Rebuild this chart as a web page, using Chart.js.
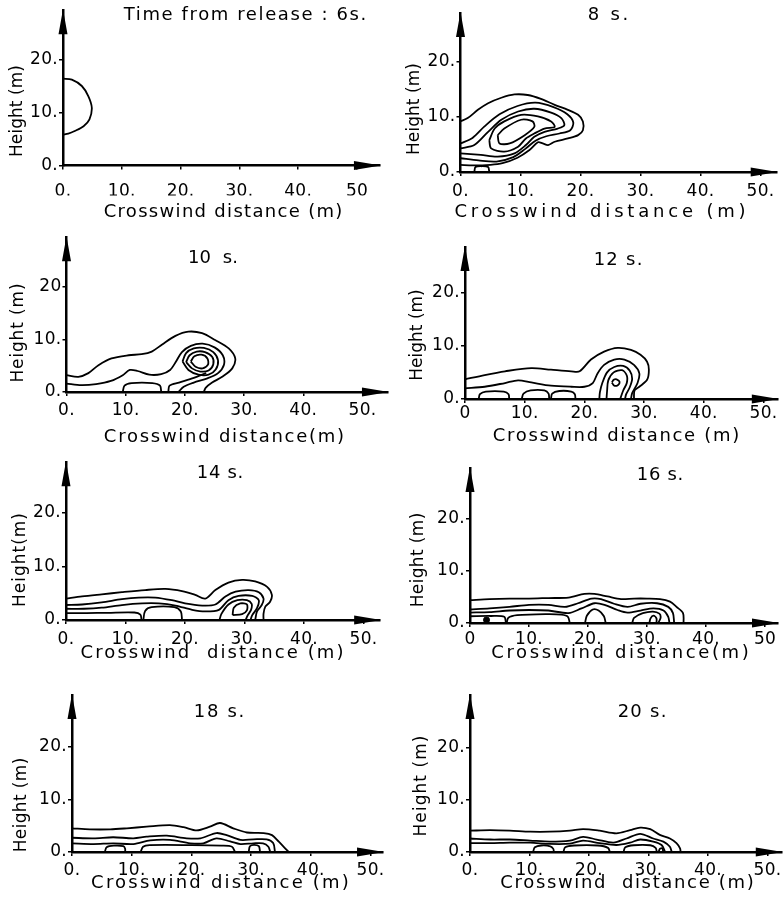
<!DOCTYPE html>
<html>
<head>
<meta charset="utf-8">
<script src="https://cdn.jsdelivr.net/npm/chart.js@4.4.1/dist/chart.umd.min.js"></script>
<style>
  body { margin: 0; background: #fff; width: 783px; height: 903px; position: relative; overflow: hidden; }
  canvas { position: absolute; }
</style>
</head>
<body>
<script>
// ---- text ----
const titles  = ['Time from release : 6s.', '8 s.', '10  s.', '12 s.', '14 s.', '16 s.', '18 s.', '20 s.'];
const xTitles = ['Crosswind distance (m)', 'Crosswind distance (m)', 'Crosswind distance(m)', 'Crosswind distance (m)',
                 'Crosswind  distance (m)', 'Crosswind distance(m)', 'Crosswind distance (m)', 'Crosswind  distance (m)'];
const yTitles = ['Height (m)', 'Height (m)', 'Height (m)', 'Height (m)', 'Height(m)', 'Height (m)', 'Height (m)', 'Height (m)'];

// tick labels, one per 10 m
const xTicks_6  = ['0.', '10.', '20.', '30.', '40.', '50'];
const xTicks_8  = ['0.', '10.', '20.', '30.', '40.', '50.'];
const xTicks_10 = ['0.', '10.', '20.', '30.', '40.', '50.'];
const xTicks_12 = ['0', '10.', '20.', '30.', '40.', '50.'];
const xTicks_14 = ['0.', '10.', '20.', '30.', '40.', '50.'];
const xTicks_16 = ['0', '10.', '20.', '30.', '40.', '50'];
const xTicks_18 = ['0.', '10.', '20.', '30.', '40.', '50.'];
const xTicks_20 = ['0.', '10.', '20.', '30.', '40.', '50.'];
const yTicks_6  = ['0.', '10.', '20.'];
const yTicks    = ['0.', '10.', '20.'];
const yTicks_10 = ['0.', '10.', '20'];

// ---- contours, [crosswind m, height m] ----
// 6 s
const s6_1 = [[0,16.4],[1.5,16.2],[3.2,15],[4.3,13.1],[4.9,10.9],[4.5,8.7],[3.5,7.4],[2,6.5],[0.9,6],[0,5.8]];

// 8 s
const s8_1 = [[0,9.2],[1.2,9.8],[2.9,11.3],[4.6,12.5],[6.8,13.5],[9,14.1],[11.2,14],[13.4,13.3],[15.7,12.2],[17.9,11.3],
              [19.6,10.4],[20.4,9.2],[20.4,7.6],[19.6,6.7],[17.9,6.1],[15.7,5.5],[14.6,4.9],[13.7,5.2],[12.9,5.4],
              [11.5,4],[9.5,2.6],[7,1.6],[5,1.3],[2,1.2],[0,1.3]];
const s8_2 = [[0,5.2],[2,6.2],[4,8.3],[6.5,10.5],[9.5,12],[12.5,12.6],[15.5,11.8],[17.8,10.5],[18.8,9],[18.3,7.6],
              [16.5,7],[14.3,6.5],[12.5,5.7],[10.8,4.2],[8.8,2.7],[6,1.9],[3,2.1],[0,2.5]];
const s8_3 = [[0,4.3],[2.3,4.9],[4.6,7.3],[6.8,9.5],[9.6,11],[12.3,11.5],[15.1,10.8],[16.8,9.8],[17.3,8.5],[16.2,7.9],
              [14,7.3],[12.3,6.4],[10.9,4.9],[9,3.4],[6.2,2.8],[3.4,3.1],[0,3.4]];
const s8_4 = [[4.8,5.8],[5.7,7.9],[7.3,9.2],[10.1,10.4],[12.9,10.1],[15.1,9.2],[15.7,8.2],[14,7.9],[12.3,7],[10.9,6.1],
              [9.6,4.6],[7.3,3.7],[5.1,4.3],[4.8,5.8]];
const s8_5 = [[6.2,6.7],[7.3,7.9],[10.1,9.5],[12,9.2],[12.3,8.2],[10.7,6.7],[8.2,5.2],[6.5,5.2],[6.2,6.7]];
const s8_6 = [[2.3,0],[2.5,0.9],[3.5,1.05],[4.6,0.9],[4.8,0]];

// 10 s
const s10_1 = [[0,3.2],[2,2.9],[3.7,3.6],[5.4,5.1],[7.6,6.4],[10.5,7],[12.7,7.2],[14.4,7.7],[16.1,9],[18.4,10.7],[20.6,11.5],
               [22.9,11.2],[25.1,9.9],[27.4,8.3],[28.5,6.4],[28,4.5],[26.3,2.9],[24.6,1.8],[23.5,0.8],[23.2,0]];
const s10_2 = [[0,1.6],[2.5,1.3],[5,1.5],[7.5,2.1],[9.5,3.2],[10.7,4.2],[12,4],[14,3.3],[16,3.4],[17.5,4.2],[18.5,5.8],
               [19.5,7.6],[21,8.8],[23,9.2],[25,8.5],[26.4,7],[26.6,5.2],[25.6,3.6],[23.8,2.6],[21.5,1.8],[19.8,1],[18.9,0]];
const s10_3 = [[19.6,5.8],[20.2,7.4],[21.5,8.3],[23.2,8.4],[24.8,7.6],[25.6,6],[25.2,4.3],[24,3.3],[22.3,3.3],[20.6,4.2],[19.6,5.8]];
const s10_4 = [[20.2,5.7],[20.8,7],[22,7.7],[23.4,7.6],[24.6,6.7],[24.8,5.3],[24,4.1],[22.6,3.9],[21.2,4.5],[20.2,5.7]];
const s10_5 = [[21,5.8],[21.6,6.8],[22.8,7.1],[23.8,6.4],[23.9,5.2],[23,4.5],[21.8,4.8],[21,5.8]];
const s10_6 = [[17.2,0],[17.4,1.2],[19,1.8],[21.5,2.7],[23.6,3.6]];
const s10_7 = [[9.5,0],[9.8,1.2],[11,1.7],[14.5,1.7],[15.8,1.2],[16,0]];

// 12 s
const s12_1 = [[0,3.7],[3.3,4.5],[6.7,5.2],[11.1,5.8],[14.4,5.5],[17.8,5.2],[19.2,5.2],[21.1,7.4],[23.3,8.9],[25.6,9.6],
               [27.8,9.2],[29.4,8.3],[30.5,7],[30.8,5.5],[30.5,3.6],[29.2,2.3],[28.4,1.6],[28.3,0]];
const s12_2 = [[0,2],[3.3,2.3],[6.7,3],[8.9,3.5],[11.1,3.1],[14.4,2.5],[17.8,2.3],[20,2.3],[21.4,3],[22.2,4.8],[23.3,6.4],
               [25,7.4],[26.7,7.4],[28.3,6.4],[29.2,4.8],[28.9,3],[28,1.1],[27.8,0]];
const s12_3 = [[22.5,0],[22.6,1.3],[23,3],[23.8,5],[25,6],[26.5,6.2],[27.6,5.3],[28,3.8],[27.6,2.2],[27,0.9],[26.8,0]];
const s12_4 = [[23.7,0],[23.8,1.5],[24,3.5],[24.9,5],[26.3,5.4],[27.1,4.4],[27.1,3],[26.5,1.6],[26,0]];
const s12_5 = [[24.6,3.1],[24.9,3.6],[25.4,3.7],[25.9,3.2],[25.6,2.6],[25,2.5],[24.6,3.1]];
const s12_6 = [[2.3,0],[2.5,0.9],[3.5,1.4],[6.5,1.4],[7.3,0.9],[7.4,0]];
const s12_7 = [[9.5,0],[9.8,1],[11,1.6],[13.3,1.6],[14,1],[14.1,0]];
const s12_8 = [[14.4,0],[14.6,1],[15.8,1.5],[17.8,1.4],[18.4,0.9],[18.5,0]];

// 14 s
const s14_1 = [[0,4],[2.7,4.4],[6,4.8],[9.4,5.2],[13.3,5.6],[16.7,5.8],[19.5,5.4],[21.7,4.7],[23.4,4],[25.1,5.6],[27.3,7],
               [29.6,7.5],[31.8,7.2],[33.8,6.2],[34.6,4.7],[34.3,3.4],[33.5,2.5],[33.2,1.2],[33.2,0]];
const s14_2 = [[0,2.8],[2.7,2.9],[6,3.3],[9.4,3.9],[12.2,4.2],[15,4.2],[17.8,3.7],[20,3.1],[22.9,2.7],[25.1,2.9],[26.8,4.4],
               [28.5,5.3],[30.7,5.6],[32.4,5.2],[33.2,4],[32.9,2.8],[32.1,1.6],[31.8,0]];
const s14_3 = [[0,2.1],[3,2.1],[6,2.3],[9.4,2.8],[12.8,3.1],[15.6,3.1],[18.4,2.7],[21.2,1.9],[23.4,1.6],[25.7,1.9],[27.3,3.7],
               [29,4.5],[31.3,4.5],[32.4,3.7],[32.1,2.2],[31.3,0.9],[31,0]];
const s14_4 = [[0,1.3],[3.5,1.3],[7,1.35],[11.5,1.4],[12.5,1],[12.7,0]];
const s14_5 = [[13,0],[13.3,1.7],[14.4,2.4],[18.2,2.4],[19.3,1.6],[19.5,0]];
const s14_6 = [[25.8,0],[26.1,1.1],[27.3,2.9],[28.8,3.7],[30.4,3.7],[31.2,3],[31.1,1.9],[30.5,0.8],[30.2,0]];
const s14_7 = [[28,0.9],[28.2,2.3],[29.3,3.1],[30.4,2.9],[30.4,1.8],[29.6,1.1],[28,0.9]];

// 16 s
const s16_1 = [[0,4.4],[3.3,4.6],[6.7,4.7],[10,4.7],[13.3,4.8],[16.7,4.9],[19.4,5.6],[21.1,5.6],[23.3,5.1],[25.6,4.6],
               [27.8,4.7],[30,4.7],[32.2,4.6],[33.9,4.1],[35,3.1],[36.1,1.9],[36.2,0]];
const s16_2 = [[0,2.6],[3.3,2.8],[6.7,3.1],[10,3.5],[13.3,3.5],[16.1,3.1],[18.3,3.8],[20.6,4.7],[22.2,4.6],[24.4,3.7],
               [26.7,3.1],[28.9,3.7],[31.7,3.8],[33.6,3.1],[34.4,1.9],[34.6,0]];
const s16_3 = [[0,2],[3.3,2.1],[6.7,2.4],[10,2.5],[13.3,2.4],[16.7,1.9],[18.9,2.8],[21.1,3.8],[22.8,3.5],[25,2.5],
               [26.7,2],[28.9,2.4],[31.1,2.8],[32.8,2.4],[33.6,1.2],[33.8,0]];
const s16_4 = [[0,1.3],[3.5,1.35],[5.8,1.2],[6.1,0]];
const s16_5 = [[6.2,0],[6.5,1],[8,1.5],[13,1.7],[15.5,1.6],[16.6,1.2],[16.9,0]];
const s16_6 = [[19.5,0],[19.8,1.4],[20.8,2.6],[21.8,2.4],[22.7,1.3],[23,0]];
const s16_7 = [[27.5,0],[27.8,1],[29.3,1.9],[31,2.2],[32.1,1.8],[32.3,1],[31.9,0]];
const s16_8 = [[30.4,0],[30.6,0.9],[31.1,1.4],[31.6,0.9],[31.6,0]];
const s16_dot = [[2.8,0.6]];

// 18 s
const s18_1 = [[0,4.5],[3,4.3],[6.4,4.3],[9.2,4.5],[12.5,4.8],[16.4,5.1],[18.7,4.7],[20.9,4.1],[23.1,4.8],[24.8,5.5],[27,4.5],
               [29.3,3.7],[32.1,3.6],[33.5,3.2],[34.6,2],[35.7,0.7],[36.3,0]];
const s18_2 = [[0,2.7],[3.6,2.6],[6.9,2.8],[10.3,2.6],[12.5,2.9],[15.9,3.1],[19.2,2.6],[21.5,2.6],[24.2,3.6],[25.9,3.2],
               [28.2,2.3],[30.4,2.4],[32.6,2.4],[33.7,1.7],[34,0]];
const s18_3 = [[0,1.65],[3.6,1.5],[6.9,1.65],[10.3,1.5],[13.1,2.2],[16.4,2.3],[19.8,1.65],[22,1.65],[24.2,2.6],[26.5,2],
               [28.2,1.5],[30.4,1.65],[32,1.65],[32.9,1],[33.2,0]];
const s18_4 = [[5.5,0],[5.8,0.9],[7,1.2],[8.6,1.1],[8.9,0.6],[8.9,0]];
const s18_5 = [[11.5,0],[11.9,1],[13,1.3],[20,1.3],[25,1.2],[26.8,1],[27.3,0]];
const s18_6 = [[29.6,0],[29.8,1.1],[30.5,1.35],[31.3,1.1],[31.5,0]];

// 20 s
const s20_1 = [[0,4.1],[3.4,4.2],[6.7,4.1],[10.1,3.9],[13.4,3.9],[16.8,4.1],[19,4.4],[21.8,4.1],[24.6,3.6],[26.9,4.2],
               [28.6,4.7],[30.3,4.4],[31.9,3.3],[33.6,2.6],[34.7,1.7],[35.3,0.7],[35.4,0]];
const s20_2 = [[0,2.6],[3.4,2.4],[6.7,2.4],[10.1,2.2],[13.4,2],[16.8,2.2],[19,2.9],[21.3,2.4],[24.1,1.8],[26.3,2.6],
               [28.6,3.5],[30.8,2.6],[32.5,2],[33.6,1],[33.9,0]];
const s20_3 = [[0,1.7],[3.4,1.7],[6.7,1.8],[10.1,1.8],[13.4,1.55],[16.8,1.6],[19,2.2],[21.8,1.7],[24.6,1.35],[26.9,1.8],
               [28.6,2.4],[30.8,2],[32.2,1.35],[32.8,0]];
const s20_4 = [[10.6,0],[10.9,0.9],[12,1.25],[13.5,1.1],[14,0.6],[14.1,0]];
const s20_5 = [[15.7,0],[16,0.9],[17.5,1.25],[21.5,1.25],[23.2,0.8],[23.5,0]];
const s20_6 = [[25.8,0],[26.1,0.9],[27.5,1.3],[30.3,1.3],[31.2,0.8],[31.4,0]];
const s20_7 = [[31.7,0],[31.9,0.6],[32.3,0.7],[32.5,0]];

const panels = [
  { lines: [s6_1], dots: [], xTicks: xTicks_6, yTicks: yTicks_6 },
  { lines: [s8_1, s8_2, s8_3, s8_4, s8_5, s8_6], dots: [], xTicks: xTicks_8, yTicks: yTicks },
  { lines: [s10_1, s10_2, s10_3, s10_4, s10_5, s10_6, s10_7], dots: [], xTicks: xTicks_10, yTicks: yTicks_10 },
  { lines: [s12_1, s12_2, s12_3, s12_4, s12_5, s12_6, s12_7, s12_8], dots: [], xTicks: xTicks_12, yTicks: yTicks },
  { lines: [s14_1, s14_2, s14_3, s14_4, s14_5, s14_6, s14_7], dots: [], xTicks: xTicks_14, yTicks: yTicks },
  { lines: [s16_1, s16_2, s16_3, s16_4, s16_5, s16_6, s16_7, s16_8], dots: s16_dot, xTicks: xTicks_16, yTicks: yTicks },
  { lines: [s18_1, s18_2, s18_3, s18_4, s18_5, s18_6], dots: [], xTicks: xTicks_18, yTicks: yTicks },
  { lines: [s20_1, s20_2, s20_3, s20_4, s20_5, s20_6, s20_7], dots: [], xTicks: xTicks_20, yTicks: yTicks },
];

// ---- page layout (pixels): cell, axis origin, px per metre, axis extent, text boxes [cx, cy, width] ----
const frames = [
  { cell: [0, 0, 391, 240],     x0: 63,    y0: 165.5, sx: 5.88, sy: 5.3,  xmax: 53.9, ymax: 29.3, pad: 12,
    title: [245, 15, 244],  xt: [223, 212, 240], yt: [18, 111, 92] },
  { cell: [391, 0, 392, 240],   x0: 460.5, y0: 172,   sx: 6.0,  sy: 5.5,  xmax: 52.7, ymax: 28.9, pad: 5,
    title: [608, 15, 43],   xt: [600, 212, 295], yt: [415, 109, 92] },
  { cell: [0, 222, 391, 240],   x0: 66.5,  y0: 392,   sx: 5.92, sy: 5.25, xmax: 54.3, ymax: 29.5, pad: 4,
    title: [213, 258, 50],  xt: [224, 437, 242], yt: [19, 333, 100] },
  { cell: [391, 222, 392, 240], x0: 465,   y0: 399,   sx: 5.97, sy: 5.33, xmax: 52.4, ymax: 28.5, pad: 0,
    title: [618, 260, 50],  xt: [616, 436, 248], yt: [418, 335, 90] },
  { cell: [0, 447, 391, 240],   x0: 66,    y0: 620,   sx: 5.95, sy: 5.35, xmax: 52.8, ymax: 29.5, pad: 5,
    title: [220, 473, 47],  xt: [212, 653, 265], yt: [21, 560, 95] },
  { cell: [391, 447, 392, 240], x0: 470,   y0: 623,   sx: 5.98, sy: 5.2,  xmax: 52.2, ymax: 29.8, pad: 2,
    title: [660, 475, 47],  xt: [620, 653, 260], yt: [419, 560, 95] },
  { cell: [0, 672, 391, 231],   x0: 72,    y0: 852,   sx: 5.97, sy: 5.27, xmax: 52.1, ymax: 29.8, pad: 4,
    title: [219, 712, 52],  xt: [220, 883, 260], yt: [22, 805, 95] },
  { cell: [391, 672, 392, 231], x0: 470,   y0: 852,   sx: 5.95, sy: 5.2,  xmax: 52.4, ymax: 30.2, pad: 4,
    title: [642, 712, 50],  xt: [627, 883, 255], yt: [422, 786, 102] },
];

const YAXIS_W = 40, XAXIS_H = 30;
Chart.defaults.font.family = '"DejaVu Sans", sans-serif';
Chart.defaults.color = '#000';

// text stretched to the width it has in the picture
function putText(ctx, text, box, size, rotated, ox, oy) {
  ctx.font = size + 'px "DejaVu Sans"';
  ctx.letterSpacing = '0px';
  const w = ctx.measureText(text).width;
  const sp = Math.max(0, (box[2] - w) / text.length);
  ctx.letterSpacing = sp + 'px';
  ctx.save();
  ctx.translate(box[0] - ox, box[1] - oy);
  if (rotated) ctx.rotate(-Math.PI / 2);
  ctx.fillText(text, sp / 2, 0);
  ctx.restore();
}

const decor = {
  id: 'decor',
  beforeUpdate(chart) { chart.ctx.letterSpacing = '0.3px'; },
  beforeDraw(chart) { chart.ctx.letterSpacing = '0.3px'; },
  afterDraw(chart, args, o) {
    const ctx = chart.ctx, a = chart.chartArea;
    ctx.save();
    ctx.fillStyle = '#000';
    ctx.beginPath();
    ctx.moveTo(a.left, a.top - 1);
    ctx.lineTo(a.left - 4.5, a.top + 24);
    ctx.lineTo(a.left + 4.5, a.top + 24);
    ctx.closePath();
    ctx.moveTo(a.right + 1, a.bottom);
    ctx.lineTo(a.right - 26, a.bottom - 4.5);
    ctx.lineTo(a.right - 26, a.bottom + 4.5);
    ctx.closePath();
    ctx.fill();
    ctx.textAlign = 'center';
    ctx.textBaseline = 'middle';
    const f = o.frame;
    putText(ctx, o.title, f.title, 18, false, f.cell[0], f.cell[1]);
    putText(ctx, o.xTitle, f.xt, 18, false, f.cell[0], f.cell[1]);
    putText(ctx, o.yTitle, f.yt, 17, true, f.cell[0], f.cell[1]);
    ctx.restore();
  }
};

panels.forEach((p, i) => {
  const f = frames[i];
  const [cx, cy, cw, ch] = f.cell;
  const canvas = document.createElement('canvas');
  canvas.width = cw; canvas.height = ch;
  canvas.style.left = cx + 'px'; canvas.style.top = cy + 'px';
  canvas.style.width = cw + 'px'; canvas.style.height = ch + 'px';
  document.body.appendChild(canvas);

  const right = f.x0 + f.xmax * f.sx;
  const top = f.y0 - f.ymax * f.sy;

  const datasets = p.lines.map(pts => ({
    data: pts.map(q => ({ x: q[0], y: q[1] })),
    showLine: true,
    borderColor: '#000',
    borderWidth: 1.8,
    pointRadius: 0,
    tension: 0.3,
  }));
  if (p.dots.length) {
    datasets.push({
      data: p.dots.map(q => ({ x: q[0], y: q[1] })),
      showLine: false,
      pointRadius: 3,
      pointBackgroundColor: '#000',
      pointBorderColor: '#000',
    });
  }

  new Chart(canvas, {
    type: 'scatter',
    data: { datasets },
    plugins: [decor],
    options: {
      responsive: false,
      animation: false,
      events: [],
      layout: {
        padding: {
          left: f.x0 - cx - YAXIS_W,
          right: cx + cw - right,
          top: top - cy,
          bottom: cy + ch - f.y0 - XAXIS_H,
        }
      },
      scales: {
        x: {
          type: 'linear',
          min: 0,
          max: f.xmax,
          afterFit: s => { s.height = XAXIS_H; s.paddingLeft = 0; s.paddingRight = 0; s.paddingTop = 0; s.paddingBottom = 0; },
          ticks: {
            stepSize: 10,
            includeBounds: false,
            autoSkip: false,
            maxRotation: 0,
            padding: f.pad,
            font: { size: 17 },
            callback: v => p.xTicks[Math.round(v / 10)],
          },
          grid: { display: true, drawOnChartArea: false, drawTicks: true, tickLength: 4, color: '#000', lineWidth: 1.5 },
          border: { display: true, color: '#000', width: 2.5 },
        },
        y: {
          type: 'linear',
          min: 0,
          max: f.ymax,
          afterFit: s => { s.width = YAXIS_W; s.paddingLeft = 0; s.paddingRight = 0; s.paddingTop = 0; s.paddingBottom = 0; },
          ticks: {
            stepSize: 10,
            includeBounds: false,
            autoSkip: false,
            padding: 1,
            font: { size: 17 },
            callback: v => p.yTicks[Math.round(v / 10)],
          },
          grid: { display: true, drawOnChartArea: false, drawTicks: true, tickLength: 4, color: '#000', lineWidth: 1.5 },
          border: { display: true, color: '#000', width: 2.5 },
        }
      },
      plugins: {
        legend: { display: false },
        tooltip: { enabled: false },
        decor: { frame: f, title: titles[i], xTitle: xTitles[i], yTitle: yTitles[i] },
      }
    }
  });
});
</script>
</body>
</html>
